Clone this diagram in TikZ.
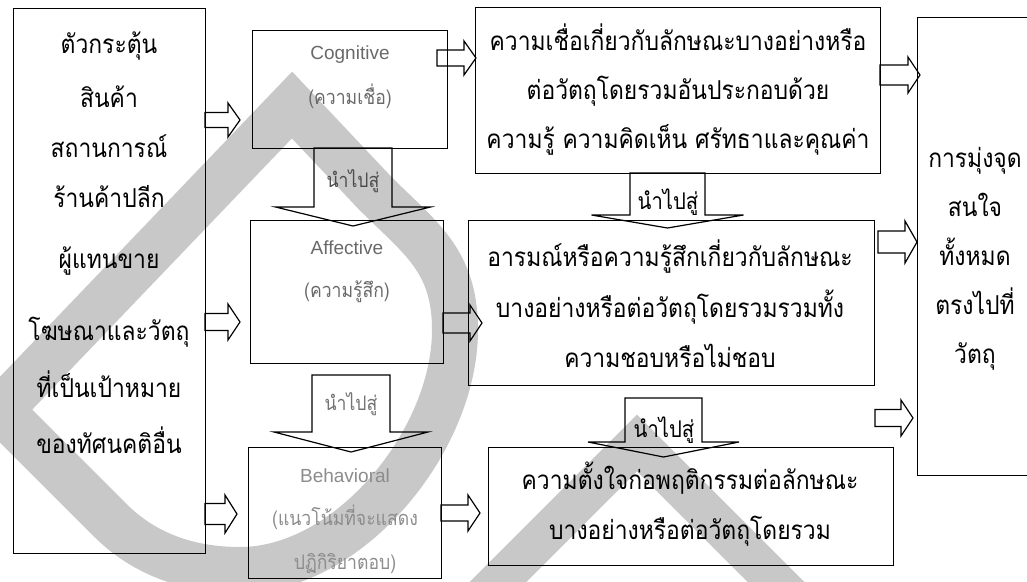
\documentclass[tikz,border=0pt]{standalone}
\usepackage{fontspec}
\newfontfamily\thai[Script=Thai, FakeStretch=0.88]{Loma}
\newfontfamily\lat{Liberation Sans}
\usetikzlibrary{calc}
\definecolor{wm}{RGB}{200,200,200}
\definecolor{fade}{RGB}{105,105,105}
\newcommand\blkR[6]{\draw[blk] (#1,#3-#4) -- (#2-#6,#3-#4) -- (#2-#6,#3-#5) -- (#2,#3) -- (#2-#6,#3+#5) -- (#2-#6,#3+#4) -- (#1,#3+#4) -- cycle;}
\newcommand\blkD[7]{\draw[blk] (#1-#4,#2) -- (#1-#4,#6) -- (#1-#5,#6) -- (#1,#3) -- (#1+#5,#6) -- (#1+#4,#6) -- (#1+#4,#2) -- cycle;}
\begin{document}
\begin{tikzpicture}[x=1pt,y=-1pt,
  box/.style={draw=black, line width=1.3pt, anchor=north west, inner sep=0pt},
  blk/.style={draw=black, line width=1.2pt, line join=miter},
  txt/.style={align=center, inner sep=0pt, font=\thai\fontsize{26}{49}\selectfont},
  mid/.style={align=center, inner sep=0pt, text=fade, font=\thai\fontsize{20}{45}\selectfont},
  lbl/.style={inner sep=0pt, font=\thai\fontsize{20}{22}\selectfont}]
\useasboundingbox (0,0) rectangle (1027,581);
% watermark
\draw[wm, line width=46pt, line join=miter, miter limit=10]
  (292,105) -- (0,410) -- (110,520) .. controls (145,555) and (190,570) .. (240,570)
  .. controls (350,570) and (455,440) .. (455,330)
  .. controls (455,260) and (420,238) .. (375,193) -- cycle;
\draw[wm, line width=40pt, line join=miter] (477,603) -- (637,443) -- (797,603);
% boxes
\node[box, minimum width=192pt, minimum height=545pt] (stim) at (13,8) {};
\node[box, minimum width=195pt, minimum height=118pt] (cog) at (252,30) {};
\node[box, minimum width=193pt, minimum height=143pt] (aff) at (250,220) {};
\node[box, minimum width=193pt, minimum height=131pt] (beh) at (248,447) {};
\node[box, minimum width=405pt, minimum height=166pt] (bel) at (475,7) {};
\node[box, minimum width=406pt, minimum height=165pt] (emo) at (468,220) {};
\node[box, minimum width=405pt, minimum height=118pt] (int) at (488,447) {};
\node[box, minimum width=113pt, minimum height=458pt] (foc) at (917,17) {};
% texts
\node[txt, font=\thai\fontsize{26}{50}\selectfont] (stimt) at (109,243) {ตัวกระตุ้น\\[4pt]สินค้า\\สถานการณ์\\ร้านค้าปลีก\\[11pt]ผู้แทนขาย\\[22pt]โฆษณาและวัตถุ\\[7pt]ที่เป็นเป้าหมาย\\[6pt]ของทัศนคติอื่น};
\node[mid] (cogt) at (350,77) {{\lat\fontsize{19}{45}\selectfont Cognitive}\\(ความเชื่อ)};
\node[mid, font=\thai\fontsize{20}{43}\selectfont] (afft) at (347,272) {{\lat\fontsize{19}{43}\selectfont Affective}\\(ความรู้สึก)};
\node[mid, text=black!45, font=\thai\fontsize{20}{43.5}\selectfont] (beht) at (345,521) {{\lat\fontsize{19}{43.5}\selectfont Behavioral}\\(แนวโน้มที่จะแสดง\\ปฏิกิริยาตอบ)};
\node[txt] (belt) at (678,90) {ความเชื่อเกี่ยวกับลักษณะบางอย่างหรือ\\ต่อวัตถุโดยรวมอันประกอบด้วย\\ความรู้ ความคิดเห็น ศรัทธาและคุณค่า};
\node[txt, font=\thai\fontsize{26}{50.5}\selectfont] (emot) at (670,304) {อารมณ์หรือความรู้สึกเกี่ยวกับลักษณะ\\บางอย่างหรือต่อวัตถุโดยรวมรวมทั้ง\\ความชอบหรือไม่ชอบ};
\node[txt, font=\thai\fontsize{26}{50}\selectfont] (intt) at (690,504) {ความตั้งใจก่อพฤติกรรมต่อลักษณะ\\บางอย่างหรือต่อวัตถุโดยรวม};
\node[txt] (foct) at (975,259) {การมุ่งจุด\\สนใจ\\ทั้งหมด\\ตรงไปที่\\วัตถุ};
% horizontal block arrows
\blkR{205}{240}{120}{7.5}{17}{12}
\blkR{205}{240}{322}{8.5}{18}{12}
\blkR{205}{237}{514}{10.5}{19}{12}
\blkR{437}{476}{58}{8}{17}{12}
\blkR{443}{482}{323}{10}{18}{12}
\blkR{441}{480}{513}{8}{18}{12}
\blkR{880}{920}{75}{10}{18}{12}
\blkR{878}{917}{242}{11}{21}{12}
\blkR{875}{913}{418}{8.5}{18}{12}
% down block arrows
\blkD{353}{148}{226}{39}{77.5}{207}{}
\blkD{351}{375}{452}{39}{77}{432}{}
\blkD{667.5}{173}{228}{37.5}{76}{215}{}
\blkD{663.5}{398}{457}{38.5}{75.5}{442}{}
\node[lbl, text=black!70] (l1) at (353,181) {นำไปสู่};
\node[lbl, text=black!55] (l2) at (351,404) {นำไปสู่};
\node[lbl, font=\thai\fontsize{23}{24}\selectfont] (l3) at (668,202) {นำไปสู่};
\node[lbl, font=\thai\fontsize{23}{24}\selectfont] (l4) at (664,430) {นำไปสู่};
\end{tikzpicture}
\end{document}
